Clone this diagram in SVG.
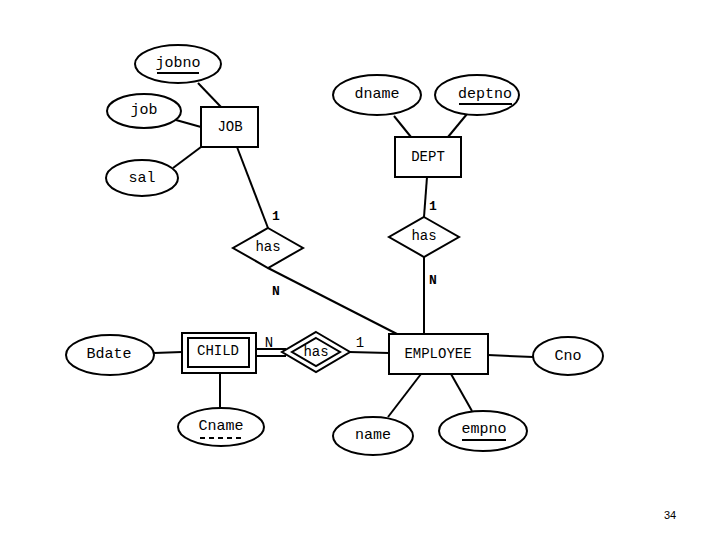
<svg xmlns="http://www.w3.org/2000/svg" width="720" height="540" viewBox="0 0 720 540">
<style>
  .shape { fill: #ffffff; stroke: #000000; stroke-width: 2; }
  .line { stroke: #000000; stroke-width: 2; fill: none; }
  text { font-family: 'Courier New', 'Liberation Mono', Courier, monospace; fill: #000000; text-anchor: middle; dominant-baseline: central; }
  .t { font-size: 15px; }
  .et { font-size: 14px; }
  .lbl { font-size: 13px; font-weight: bold; }
  .key { stroke: #000000; stroke-width: 2; }
  .pg { font-family: 'Liberation Sans', Arial, sans-serif; font-size: 11px; }
</style>
<rect width="720" height="540" fill="#ffffff"/>
<g id="connectors">
  <line class="line" x1="198" y1="83" x2="221" y2="107"/>
  <line class="line" x1="176" y1="120" x2="201" y2="127"/>
  <line class="line" x1="173" y1="168" x2="201" y2="147"/>
  <line class="line" x1="237" y1="147" x2="268" y2="228"/>
  <line class="line" x1="268" y1="268" x2="397" y2="334"/>
  <line class="line" x1="394" y1="116" x2="411" y2="137"/>
  <line class="line" x1="467" y1="114" x2="448" y2="137"/>
  <line class="line" x1="427" y1="177" x2="424" y2="217"/>
  <line class="line" x1="424" y1="257" x2="424" y2="334"/>
  <line class="line" x1="154" y1="353" x2="182" y2="352"/>
  <line class="line" x1="220" y1="373" x2="220" y2="408"/>
  <line class="line" x1="256" y1="349" x2="286" y2="349"/>
  <line class="line" x1="256" y1="356" x2="286" y2="356"/>
  <line class="line" x1="349" y1="352" x2="389" y2="353"/>
  <line class="line" x1="488" y1="355" x2="533" y2="357" stroke-width="3"/>
  <line class="line" x1="421" y1="374" x2="388" y2="417"/>
  <line class="line" x1="451" y1="374" x2="472" y2="411"/>
  <text class="lbl" x="276" y="216">1</text>
  <text class="lbl" x="276" y="291">N</text>
  <text class="lbl" x="433" y="206">1</text>
  <text class="lbl" x="433" y="280">N</text>
  <text class="et" x="269" y="343">N</text>
  <text class="et" x="360" y="343">1</text>
</g>
<g id="JOB">
  <rect class="shape" x="201" y="107" width="57" height="40"/>
  <text class="et" x="230" y="127">JOB</text>
</g>
<g id="jobno">
  <ellipse class="shape" cx="178" cy="64" rx="43" ry="19"/>
  <text class="t" x="178" y="63">jobno</text>
  <line class="key" x1="157" y1="73" x2="199" y2="73"/>
</g>
<g id="job">
  <ellipse class="shape" cx="144" cy="111" rx="37" ry="17"/>
  <text class="t" x="144" y="110">job</text>
</g>
<g id="sal">
  <ellipse class="shape" cx="142" cy="178" rx="36" ry="18"/>
  <text class="t" x="142" y="178">sal</text>
</g>
<g id="has_job">
  <polygon class="shape" points="268,228 303,248 268,268 233,248"/>
  <text class="et" x="268" y="247">has</text>
</g>
<g id="DEPT">
  <rect class="shape" x="395" y="137" width="66" height="40"/>
  <text class="et" x="428" y="157">DEPT</text>
</g>
<g id="dname">
  <ellipse class="shape" cx="377" cy="95" rx="44" ry="20"/>
  <text class="t" x="377" y="94">dname</text>
</g>
<g id="deptno">
  <ellipse class="shape" cx="477" cy="95" rx="42" ry="20"/>
  <text class="t" x="485" y="94">deptno</text>
  <line class="key" x1="459" y1="104" x2="512" y2="104"/>
</g>
<g id="has_dept">
  <polygon class="shape" points="424,217 459,237 424,257 389,237"/>
  <text class="et" x="424" y="236">has</text>
</g>
<g id="EMPLOYEE">
  <rect class="shape" x="389" y="334" width="99" height="40"/>
  <text class="et" x="438" y="354">EMPLOYEE</text>
</g>
<g id="Cno">
  <ellipse class="shape" cx="568" cy="356" rx="35" ry="19"/>
  <text class="t" x="568" y="356">Cno</text>
</g>
<g id="name">
  <ellipse class="shape" cx="373" cy="436" rx="40" ry="19"/>
  <text class="t" x="373" y="435">name</text>
</g>
<g id="empno">
  <ellipse class="shape" cx="483" cy="431" rx="44" ry="20"/>
  <text class="t" x="484" y="429">empno</text>
  <line class="key" x1="462" y1="440" x2="506" y2="440"/>
</g>
<g id="has_child">
  <polygon class="shape" points="316,332 350,352 316,372 282,352"/>
  <polygon class="shape" points="316,338 340,352 316,366 292,352"/>
  <text class="et" x="316" y="352">has</text>
</g>
<g id="CHILD">
  <rect class="shape" x="182" y="333" width="74" height="40"/>
  <rect class="shape" x="188" y="338" width="61" height="29"/>
  <text class="et" x="218" y="351">CHILD</text>
</g>
<g id="Bdate">
  <ellipse class="shape" cx="110" cy="355" rx="44" ry="20"/>
  <text class="t" x="109" y="354">Bdate</text>
</g>
<g id="Cname">
  <ellipse class="shape" cx="221" cy="427" rx="43" ry="19"/>
  <text class="t" x="221" y="426">Cname</text>
  <line class="key" x1="200" y1="438" x2="243" y2="438" stroke-dasharray="5,4"/>
</g>
<text class="pg" x="670" y="515">34</text>
</svg>
